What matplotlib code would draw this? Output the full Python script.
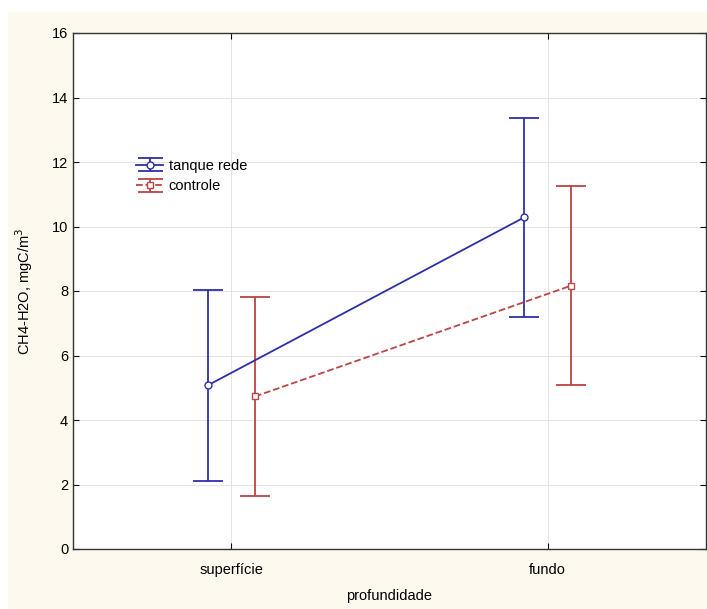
import matplotlib.pyplot as plt
from matplotlib.patches import Rectangle
from matplotlib.legend_handler import HandlerErrorbar
import numpy as np

plt.rcParams["font.family"] = ["Liberation Sans", "DejaVu Sans"]

# data
categories = ["superfície", "fundo"]
tanque_mean = [5.07, 10.28]
tanque_err = [2.97, 3.08]
controle_mean = [4.73, 8.17]
controle_err = [3.08, 3.08]
yticks = [0, 2, 4, 6, 8, 10, 12, 14, 16]

blue = "#2d2fa6"
red = "#bb4444"

fig = plt.figure(figsize=(7.07, 6.09), dpi=100, facecolor="white")
# cream background panel as in the reference
fig.patches.append(Rectangle((8 / 707, 0), 1, (609 - 12) / 609,
                             transform=fig.transFigure, facecolor="#fdf9ef",
                             edgecolor="none", zorder=-10))

ax = fig.add_axes([73 / 707, 60 / 609, (706 - 73) / 707, (549 - 33) / 609])
ax.set_facecolor("white")

x = np.arange(len(categories))
off = 0.075

ax.errorbar(x - off, tanque_mean, yerr=tanque_err, color=blue, lw=1.3,
            marker="o", ms=5, mfc="white", mec=blue, capsize=11,
            capthick=1.3, elinewidth=1.3, label="tanque rede", zorder=3)
ax.errorbar(x + off, controle_mean, yerr=controle_err, color=red, lw=1.3,
            ls="--", marker="s", ms=5, mfc="white", mec=red, capsize=11,
            capthick=1.3, elinewidth=1.3, label="controle", zorder=3)

ax.set_xlim(-0.5, 1.5)
ax.set_ylim(0, 16)
ax.set_xticks(x)
ax.set_xticklabels(categories, fontsize=10.5)
ax.set_yticks(yticks)
ax.set_yticklabels([str(v) for v in yticks], fontsize=10.5)
ax.tick_params(direction="in", length=4, top=True, right=True, width=0.8)
ax.tick_params(axis="x", pad=10)
ax.grid(True, color="#e4e4e4", lw=0.7)
ax.set_axisbelow(True)
for s in ax.spines.values():
    s.set_color("#333333")
    s.set_linewidth(1.0)

ax.set_xlabel("profundidade", fontsize=10.5, labelpad=9)
ax.set_ylabel("CH4-H2O, mgC/m$^3$", fontsize=10.5, labelpad=12)


def small_caps(legend_handle, orig_handle):
    legend_handle.update_from(orig_handle)
    # shrink the cap markers in the legend only
    if getattr(orig_handle, "get_marker", None) and orig_handle.get_marker() == "_":
        legend_handle.set_markersize(18)


ax.legend(loc="upper left", bbox_to_anchor=(0.083, 0.776), frameon=False,
          fontsize=10.5, handlelength=1.9, handletextpad=0.35,
          labelspacing=0.45, borderpad=0.2,
          handler_map={type(ax.containers[0]): HandlerErrorbar(
              yerr_size=0.45, update_func=small_caps)})

fig.savefig("out.png", dpi=100)
